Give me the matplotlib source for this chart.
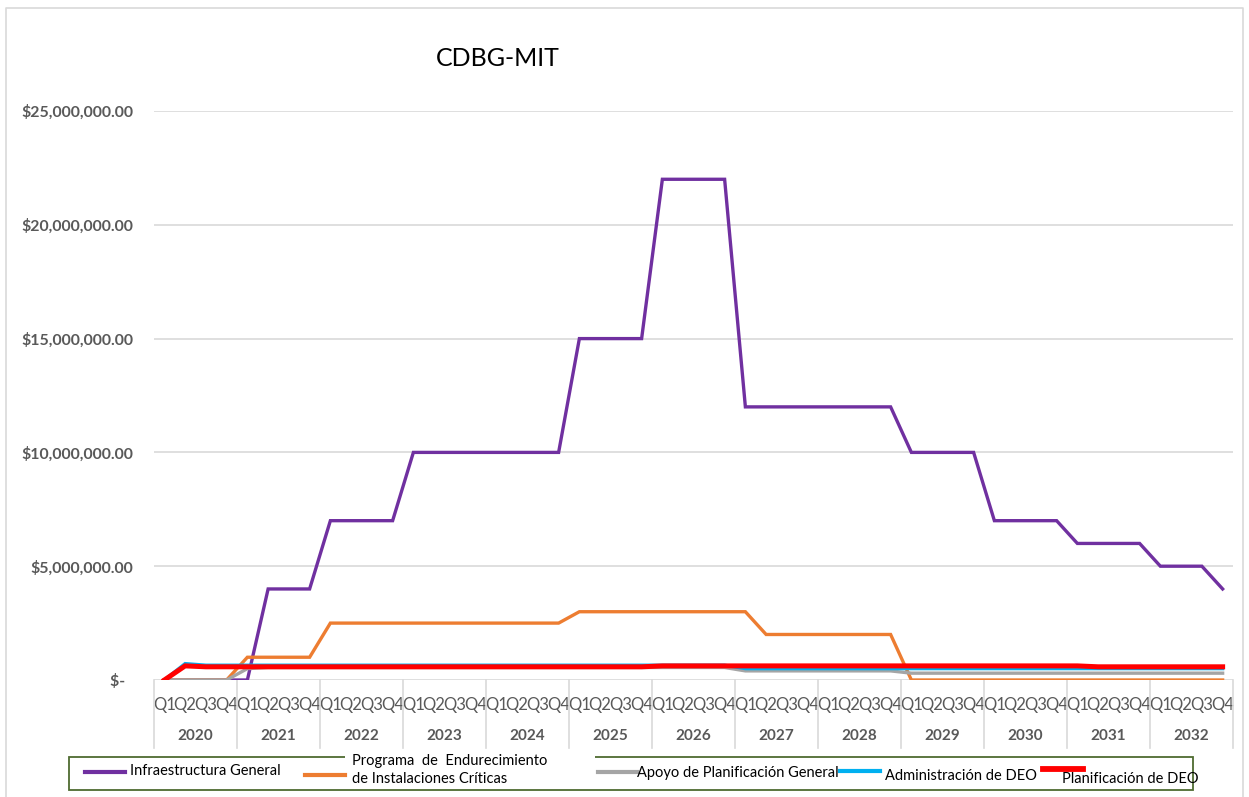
import matplotlib
matplotlib.use("Agg")
import matplotlib.pyplot as plt
from matplotlib.patches import Rectangle
from matplotlib.lines import Line2D
import numpy as np

plt.rcParams['font.family'] = ['Lato', 'DejaVu Sans']

years = [str(y) for y in range(2020, 2033)]
quarters = ["Q1", "Q2", "Q3", "Q4"]

infraestructura = [0, 0, 0, 0,
                   0, 4e6, 4e6, 4e6,
                   7e6, 7e6, 7e6, 7e6,
                   10e6, 10e6, 10e6, 10e6,
                   10e6, 10e6, 10e6, 10e6,
                   15e6, 15e6, 15e6, 15e6,
                   22e6, 22e6, 22e6, 22e6,
                   12e6, 12e6, 12e6, 12e6,
                   12e6, 12e6, 12e6, 12e6,
                   10e6, 10e6, 10e6, 10e6,
                   7e6, 7e6, 7e6, 7e6,
                   6e6, 6e6, 6e6, 6e6,
                   5e6, 5e6, 5e6, 4e6]

endurecimiento = [0, 0, 0, 0,
                  1e6, 1e6, 1e6, 1e6,
                  2.5e6, 2.5e6, 2.5e6, 2.5e6,
                  2.5e6, 2.5e6, 2.5e6, 2.5e6,
                  2.5e6, 2.5e6, 2.5e6, 2.5e6,
                  3e6, 3e6, 3e6, 3e6,
                  3e6, 3e6, 3e6, 3e6,
                  3e6, 2e6, 2e6, 2e6,
                  2e6, 2e6, 2e6, 2e6,
                  0, 0, 0, 0,
                  0, 0, 0, 0,
                  0, 0, 0, 0,
                  0, 0, 0, 0]

apoyo = [0, 0, 0, 0,
         0.5e6, 0.55e6, 0.55e6, 0.55e6,
         0.55e6, 0.55e6, 0.55e6, 0.55e6,
         0.55e6, 0.55e6, 0.55e6, 0.55e6,
         0.55e6, 0.55e6, 0.55e6, 0.55e6,
         0.55e6, 0.55e6, 0.55e6, 0.55e6,
         0.55e6, 0.55e6, 0.55e6, 0.55e6,
         0.4e6, 0.4e6, 0.4e6, 0.4e6,
         0.4e6, 0.4e6, 0.4e6, 0.4e6,
         0.3e6, 0.3e6, 0.3e6, 0.3e6,
         0.3e6, 0.3e6, 0.3e6, 0.3e6,
         0.3e6, 0.3e6, 0.3e6, 0.3e6,
         0.3e6, 0.3e6, 0.3e6, 0.3e6]

administracion = [0, 0.72e6, 0.65e6, 0.65e6,
                  0.65e6, 0.65e6, 0.65e6, 0.65e6,
                  0.65e6, 0.65e6, 0.65e6, 0.65e6,
                  0.65e6, 0.65e6, 0.65e6, 0.65e6,
                  0.65e6, 0.65e6, 0.65e6, 0.65e6,
                  0.65e6, 0.65e6, 0.65e6, 0.65e6,
                  0.65e6, 0.65e6, 0.65e6, 0.65e6,
                  0.5e6, 0.5e6, 0.5e6, 0.5e6,
                  0.5e6, 0.5e6, 0.5e6, 0.5e6,
                  0.5e6, 0.5e6, 0.5e6, 0.5e6,
                  0.5e6, 0.5e6, 0.5e6, 0.5e6,
                  0.5e6, 0.5e6, 0.5e6, 0.5e6,
                  0.5e6, 0.5e6, 0.5e6, 0.5e6]

planificacion = [0, 0.62e6, 0.58e6, 0.58e6,
                 0.58e6, 0.58e6, 0.58e6, 0.58e6,
                 0.58e6, 0.58e6, 0.58e6, 0.58e6,
                 0.58e6, 0.58e6, 0.58e6, 0.58e6,
                 0.58e6, 0.58e6, 0.58e6, 0.58e6,
                 0.58e6, 0.58e6, 0.58e6, 0.58e6,
                 0.62e6, 0.62e6, 0.62e6, 0.62e6,
                 0.62e6, 0.62e6, 0.62e6, 0.62e6,
                 0.62e6, 0.62e6, 0.62e6, 0.62e6,
                 0.62e6, 0.62e6, 0.62e6, 0.62e6,
                 0.62e6, 0.62e6, 0.62e6, 0.62e6,
                 0.62e6, 0.58e6, 0.58e6, 0.58e6,
                 0.58e6, 0.58e6, 0.58e6, 0.58e6]

series_labels = ["Infraestructura General",
                 "Programa  de  Endurecimiento\nde Instalaciones Críticas",
                 "Apoyo de Planificación General",
                 "Administración de DEO",
                 "Planificación de DEO"]
series_colors = ["#7030A0", "#ED7D31", "#A5A5A5", "#00B0F0", "#FF0000"]
series_widths = [2.4, 2.4, 2.4, 2.4, 3.6]
series_values = [infraestructura, endurecimiento, apoyo, administracion, planificacion]

y_ticks = [0, 5e6, 10e6, 15e6, 20e6, 25e6]

W, H = 1249, 797
fig = plt.figure(figsize=(W / 100, H / 100), dpi=100)


def fx(px):
    return px / W


def fy(py):
    return 1 - py / H


# chart border
fig.add_artist(Line2D([fx(6), fx(6), fx(1243), fx(1243)],
                      [fy(797), fy(8), fy(8), fy(797)],
                      color="#D9D9D9", lw=1.2))

left, right, top, bottom = 154, 1233, 111, 680
ax = fig.add_axes([fx(left), fy(bottom), fx(right - left), (bottom - top) / H])

n = len(infraestructura)
x = np.arange(n)
for vals, col, lw in zip(series_values, series_colors, series_widths):
    ax.plot(x, vals, color=col, lw=lw, solid_joinstyle="miter", zorder=3)

ax.set_xlim(-0.5, n - 0.5)
ax.set_ylim(0, 25e6)
for s in ax.spines.values():
    s.set_visible(False)

ax.set_yticks(y_ticks)
ax.set_yticklabels(["$-  "] + [f"${v:,.2f}" for v in y_ticks[1:]],
                   fontsize=11.4, fontweight="bold", color="#595959")
ax.tick_params(axis="y", length=0, pad=15)
ax.grid(axis="y", color="#D9D9D9", lw=1.2, zorder=0)

# quarter labels
ax.set_xticks(x)
ax.set_xticklabels(quarters * len(years), fontsize=12, color="#595959")
ax.tick_params(axis="x", length=0, pad=12)

# year separators and year labels
sep_depth = (748 - bottom) / (bottom - top)
trans = ax.get_xaxis_transform()
for k in range(len(years) + 1):
    xv = -0.5 + 4 * k
    ax.plot([xv, xv], [0, -sep_depth], transform=trans, color="#D9D9D9",
            lw=1.2, clip_on=False)
for k, yr in enumerate(years):
    ax.text(1.5 + 4 * k, -(736 - bottom) / (bottom - top), yr, transform=trans,
            ha="center", va="center", fontsize=11, fontweight="bold", color="#595959")

# title
fig.text(fx(497.5), fy(58), "CDBG-MIT", ha="center", va="center", fontsize=18, color="black")

# legend
leg_border = "#4E6B30"
fig.add_artist(Rectangle((fx(69), fy(790)), fx(1193 - 69), (790 - 757) / H,
                         fill=False, edgecolor=leg_border, lw=1.3))
fig.add_artist(Rectangle((fx(345), fy(759)), fx(595 - 345), 4 / H,
                         facecolor="white", edgecolor="none", zorder=5))

legend_items = [
    (85, 125, 772, 130, 771),
    (305, 345, 775, 352, 770),
    (598, 637, 772, 637, 773),
    (840, 880, 771, 885, 776),
    (1043, 1083, 769, 1062, 779),
]
for (x0, x1, ly, tx, ty), lab, col, lw in zip(legend_items, series_labels,
                                              series_colors, series_widths):
    fig.add_artist(Line2D([fx(x0), fx(x1)], [fy(ly), fy(ly)], color=col, lw=lw + 0.6,
                          zorder=6))
    fig.text(fx(tx), fy(ty), lab, ha="left", va="center", fontsize=10.5,
             color="black", zorder=7, linespacing=1.35)

fig.savefig("out.png", dpi=100, facecolor="white")
